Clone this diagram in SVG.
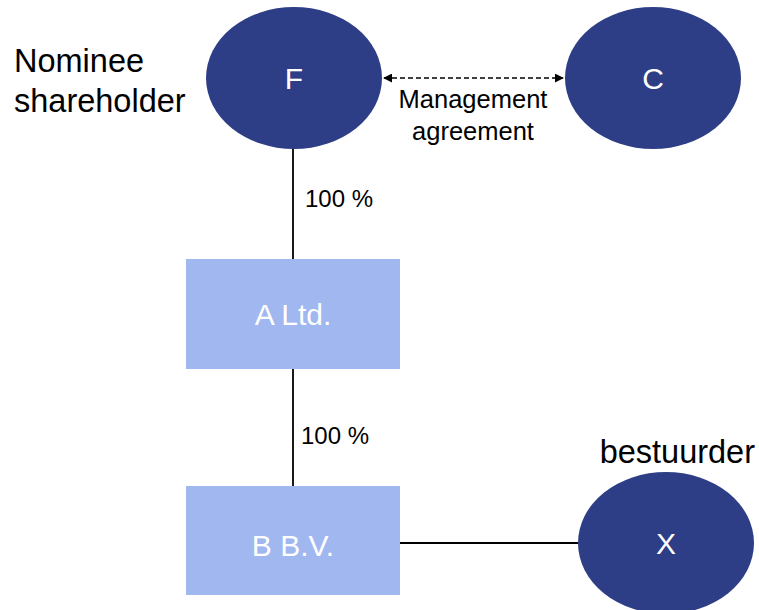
<svg xmlns="http://www.w3.org/2000/svg" width="759" height="610" viewBox="0 0 759 610">
<style>
.ell{fill:#2E3E86}
.box{fill:#A1B7EF}
.nl{font-family:"Liberation Sans",Arial,sans-serif;font-size:30px;fill:#fff;text-anchor:middle}
.lbl{font-family:"Liberation Sans",Arial,sans-serif;fill:#000}
.ln{stroke:#000;stroke-width:1.8;fill:none}
</style>
<defs>
<marker id="ah" viewBox="0 0 10 10" refX="9" refY="5" markerWidth="6" markerHeight="6" orient="auto-start-reverse">
<path d="M0,0 L10,5 L0,10 z" fill="#000"/>
</marker>
</defs>
<rect width="759" height="610" fill="#fff"/>
<g id="connectors">
<line class="ln" x1="293" y1="148" x2="293" y2="259"/>
<line class="ln" x1="293" y1="369" x2="293" y2="486"/>
<line class="ln" x1="400" y1="543" x2="578" y2="543"/>
<line x1="384" y1="78" x2="563" y2="78" stroke="#000" stroke-width="1.5" stroke-dasharray="5 3" marker-start="url(#ah)" marker-end="url(#ah)"/>
<text class="lbl" x="473" y="108" font-size="25.5" text-anchor="middle">Management</text>
<text class="lbl" x="473" y="140" font-size="25.5" text-anchor="middle">agreement</text>
<text class="lbl" x="305" y="207" font-size="24">100 %</text>
<text class="lbl" x="301" y="444" font-size="24">100 %</text>
</g>
<g id="F">
<ellipse class="ell" cx="294" cy="78" rx="88" ry="71"/>
<text class="nl" x="294" y="89">F</text>
</g>
<g id="nominee-label">
<text class="lbl" x="14" y="72" font-size="32.5">Nominee</text>
<text class="lbl" x="14" y="112" font-size="32.5">shareholder</text>
</g>
<g id="C">
<ellipse class="ell" cx="653" cy="78" rx="88" ry="71"/>
<text class="nl" x="653" y="89">C</text>
</g>
<g id="A">
<rect class="box" x="186" y="259" width="214" height="110"/>
<text class="nl" x="293" y="325">A Ltd.</text>
</g>
<g id="B">
<rect class="box" x="186" y="486" width="214" height="109"/>
<text class="nl" x="293" y="556">B B.V.</text>
</g>
<g id="X">
<ellipse class="ell" cx="666" cy="543" rx="88" ry="71"/>
<text class="nl" x="666" y="554">X</text>
<text class="lbl" x="755" y="463" font-size="32.5" text-anchor="end">bestuurder</text>
</g>
</svg>
